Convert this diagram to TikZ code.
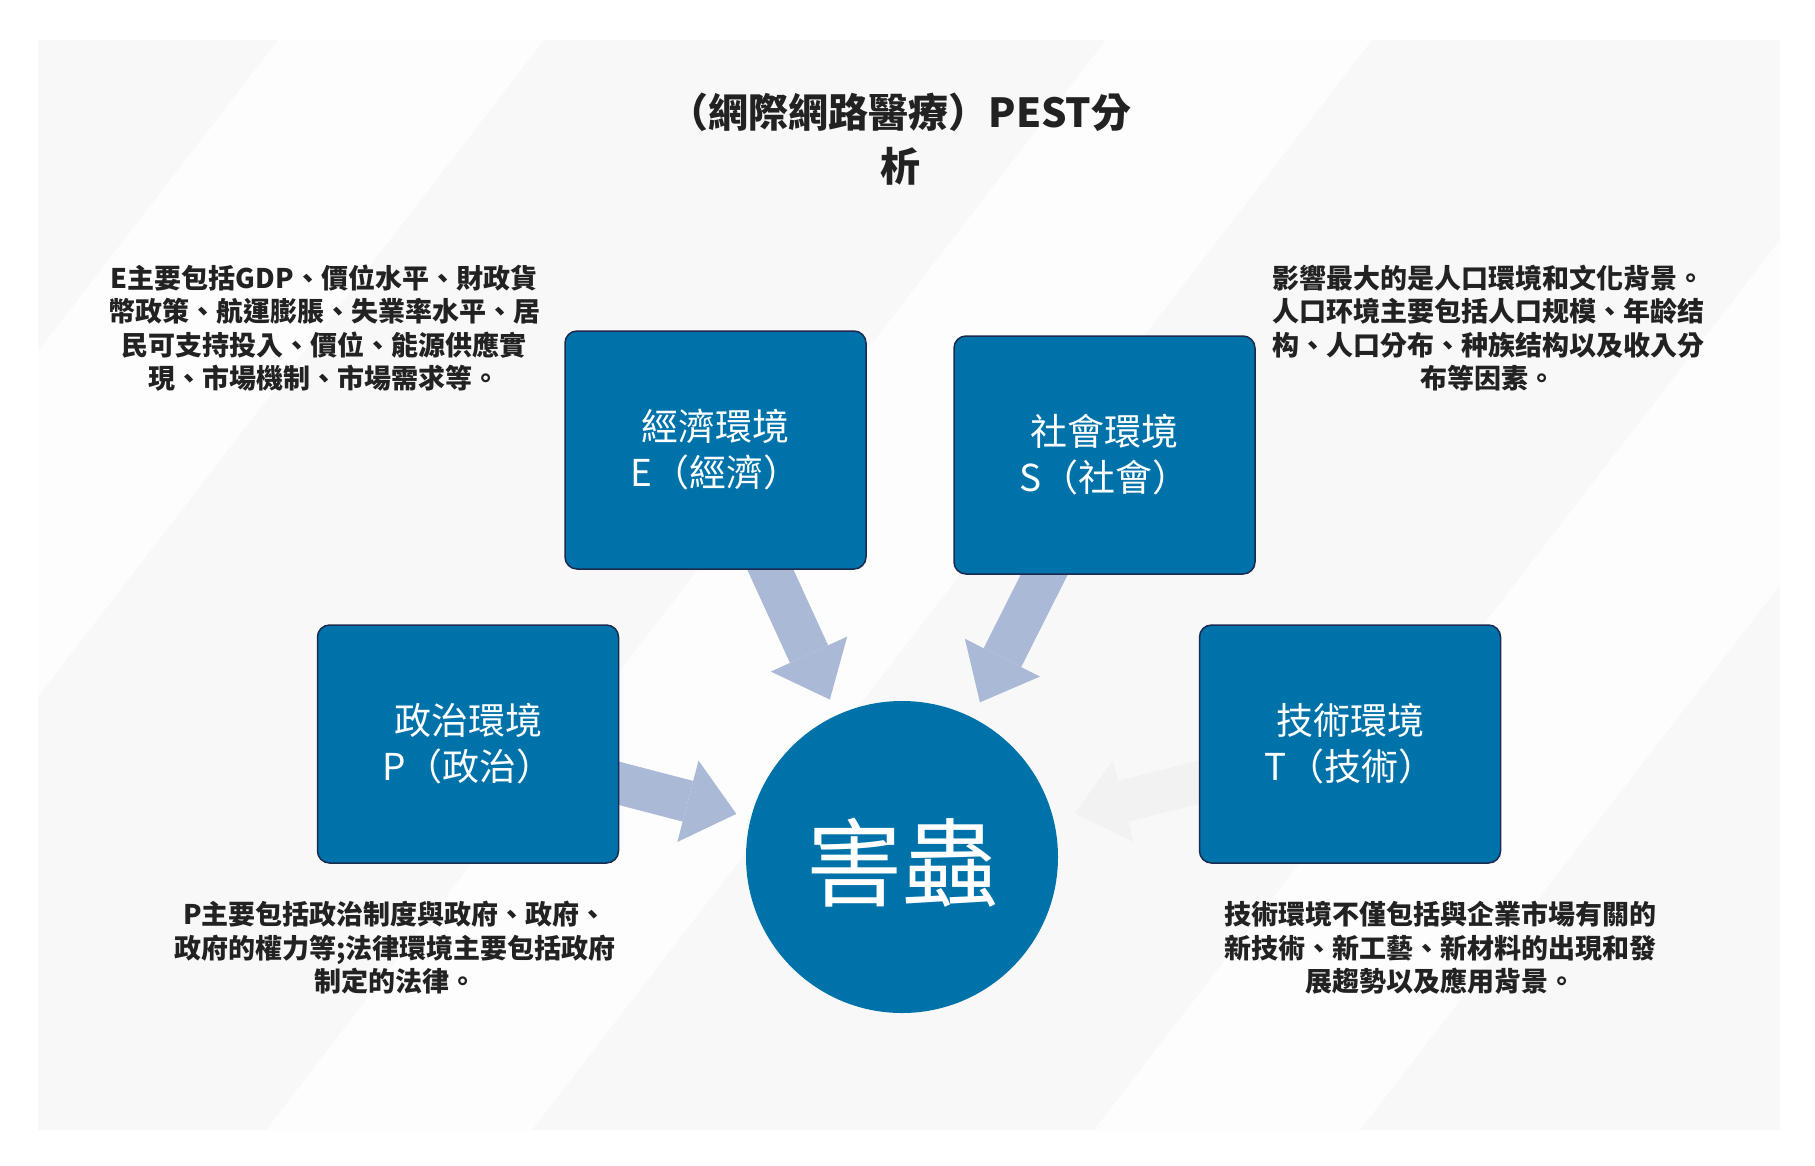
\documentclass[tikz,border=0pt]{standalone}
\usepackage{fontspec}
\setmainfont{Noto Sans CJK TC}
\usetikzlibrary{arrows.meta,positioning,calc}
\definecolor{boxblue}{RGB}{0,114,170}
\definecolor{boxline}{RGB}{27,42,78}
\definecolor{arrowblue}{RGB}{169,185,214}
\definecolor{fadegray}{RGB}{242,242,242}
\definecolor{panelgray}{RGB}{248,248,248}
\definecolor{stripe}{RGB}{253,253,253}
\definecolor{inktext}{RGB}{34,34,34}
\pgfdeclarelayer{back}
\pgfdeclarelayer{arrows}
\pgfsetlayers{back,arrows,main}
\begin{document}
\begin{tikzpicture}[x=1pt, y=-1pt,
  box/.style={draw=boxline, line width=1.5pt, fill=boxblue, rounded corners=12pt, minimum width=301pt, minimum height=238pt, align=center, text=white, font=\fontsize{37}{46}\selectfont},
  desc/.style={align=center, text=inktext, font=\bfseries\fontsize{27}{33.5}\selectfont},
  push/.style={line width=42pt, draw=arrowblue, -{Triangle[length=50pt, width=84pt, line width=0pt]}}]
\useasboundingbox (0,0) rectangle (1815,1165);
\begin{pgfonlayer}{back}
\fill[white] (0,0) rectangle (1815,1165);
\fill[panelgray] (38,40) rectangle (1780,1130);
\begin{scope}
\clip (38,40) rectangle (1780,1130);
\foreach \b in {-562,266,1094}
  \fill[stripe] (\b,1130) -- (\b+266,1130) -- (\b+1106,40) -- (\b+840,40) -- cycle;
\end{scope}
\end{pgfonlayer}
\node[font=\bfseries\fontsize{40}{54}\selectfont, text=inktext, align=center] (title) at (900,139) {（網際網路醫療）PEST分\\析};
\node[box] (econ) at (715.5,450) {經濟環境\\E（經濟）};
\node[box] (soc) at (1104.5,455) {社會環境\\S（社會）};
\node[box] (pol) at (468,744) {政治環境\\P（政治）};
\node[box] (tech) at (1350,744) {技術環境\\T（技術）};
\node[circle, fill=boxblue, minimum size=312pt, inner sep=0pt, text height=84pt, text depth=0pt, text=white, font=\fontsize{96}{96}\selectfont] (hub) at (902,857) {害蟲};
\node[desc] (econtxt) at (324,328) {E主要包括GDP、價位水平、財政貨\\幣政策、航運膨脹、失業率水平、居\\民可支持投入、價位、能源供應實\\現、市場機制、市場需求等。};
\node[desc] (soctxt) at (1488,328) {影響最大的是人口環境和文化背景。\\人口环境主要包括人口规模、年龄结\\构、人口分布、种族结构以及收入分\\布等因素。};
\node[desc] (poltxt) at (395,948) {P主要包括政治制度與政府、政府、\\政府的權力等;法律環境主要包括政府\\制定的法律。};
\node[desc] (techtxt) at (1440,948) {技術環境不僅包括與企業市場有關的\\新技術、新工藝、新材料的出現和發\\展趨勢以及應用背景。};
\begin{pgfonlayer}{arrows}
\draw[push, shorten >=17pt] (econ.center) -- (hub);
\draw[push, shorten >=17pt] (soc.center) -- (hub);
\draw[push, shorten >=15pt] (pol.center) -- (hub);
\draw[push, draw=fadegray, shorten >=22pt] (tech.center) -- (hub);
\end{pgfonlayer}
\end{tikzpicture}
\end{document}
